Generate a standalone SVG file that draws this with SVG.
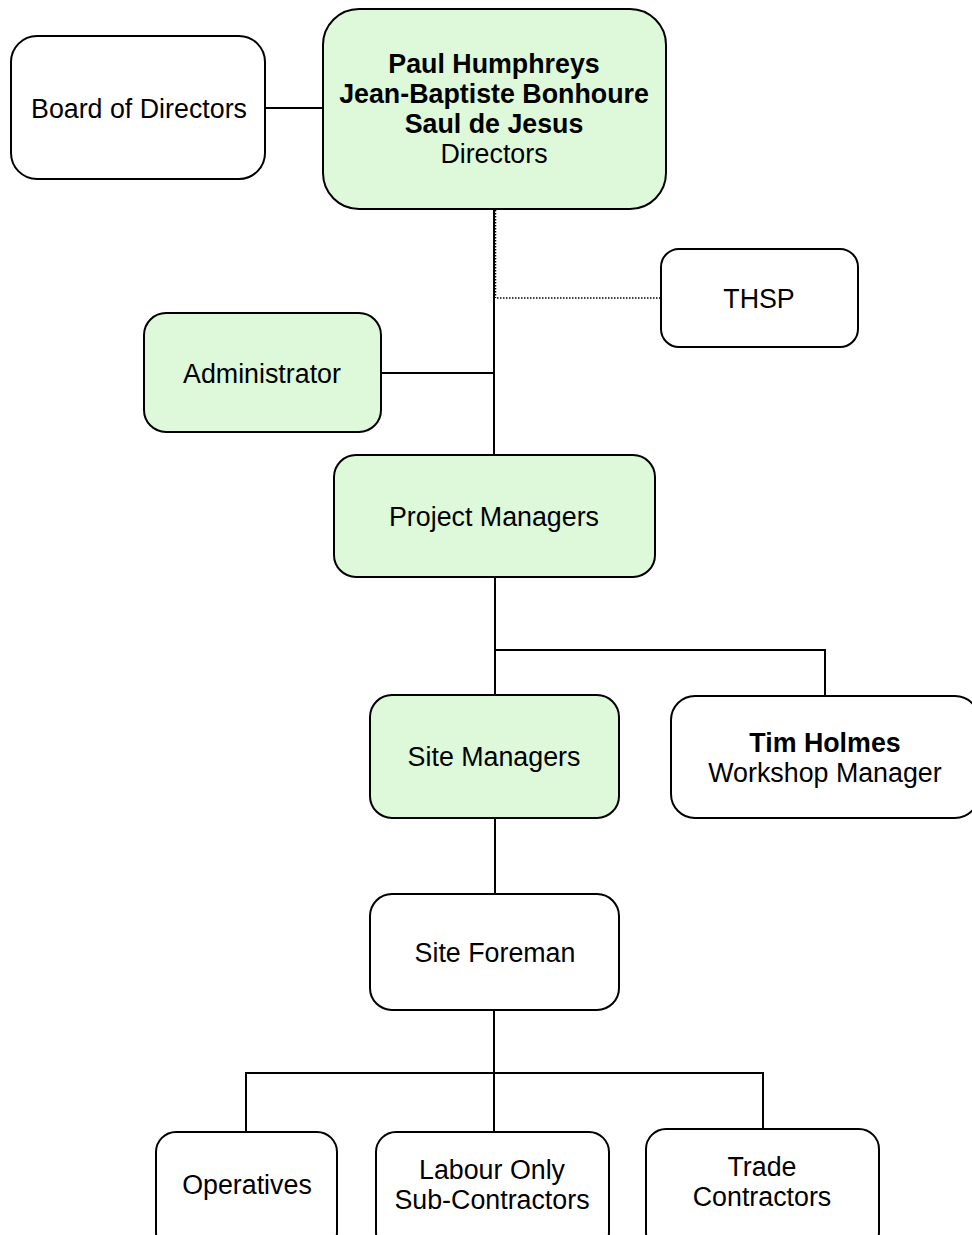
<svg xmlns="http://www.w3.org/2000/svg" width="972" height="1235" viewBox="0 0 972 1235">
<style>
.box{stroke:#000;stroke-width:2;fill:#fff}
.green{fill:#ddf9d9}
text{font-family:"Liberation Sans",Arial,sans-serif;font-size:26.8px;text-anchor:middle;fill:#000}
.b{font-weight:bold}
.ln{stroke:#000;stroke-width:2;fill:none}
.dot{stroke:#000;stroke-width:1.5;fill:none;stroke-dasharray:1.5,1.5}
</style>
<rect width="972" height="1235" fill="#fff"/>
<g id="connectors">
<line class="ln" x1="265" y1="108" x2="323" y2="108"/>
<line class="ln" x1="494" y1="209" x2="494" y2="455"/>
<line class="dot" x1="495.5" y1="210" x2="495.5" y2="298"/>
<line class="dot" x1="497" y1="298" x2="661" y2="298"/>
<line class="ln" x1="381" y1="373" x2="494" y2="373"/>
<line class="ln" x1="495" y1="577" x2="495" y2="695"/>
<polyline class="ln" points="495,650 825,650 825,696"/>
<line class="ln" x1="495" y1="818" x2="495" y2="894"/>
<line class="ln" x1="494" y1="1010" x2="494" y2="1132"/>
<polyline class="ln" points="246,1132 246,1073 763,1073 763,1129"/>
</g>
<g id="board"><rect class="box" x="11" y="36" width="254" height="143" rx="26"/><text x="139" y="118">Board of Directors</text></g>
<g id="directors"><rect class="box green" x="323" y="9" width="343" height="200" rx="36"/>
<text class="b" x="494" y="73">Paul Humphreys</text>
<text class="b" x="494" y="103">Jean-Baptiste Bonhoure</text>
<text class="b" x="494" y="133">Saul de Jesus</text>
<text x="494" y="163">Directors</text></g>
<g id="thsp"><rect class="box" x="661" y="249" width="197" height="98" rx="18"/><text x="759" y="308">THSP</text></g>
<g id="administrator"><rect class="box green" x="144" y="313" width="237" height="119" rx="22"/><text x="262" y="383">Administrator</text></g>
<g id="project-managers"><rect class="box green" x="334" y="455" width="321" height="122" rx="22"/><text x="494" y="526">Project Managers</text></g>
<g id="site-managers"><rect class="box green" x="370" y="695" width="249" height="123" rx="22"/><text x="494" y="766">Site Managers</text></g>
<g id="tim-holmes"><rect class="box" x="671" y="696" width="308" height="122" rx="24"/><text class="b" x="825" y="752">Tim Holmes</text><text x="825" y="782">Workshop Manager</text></g>
<g id="site-foreman"><rect class="box" x="370" y="894" width="249" height="116" rx="22"/><text x="495" y="962">Site Foreman</text></g>
<g id="operatives"><rect class="box" x="156" y="1132" width="181" height="120" rx="20"/><text x="247" y="1194">Operatives</text></g>
<g id="labour-only"><rect class="box" x="376" y="1132" width="233" height="120" rx="20"/><text x="492" y="1179">Labour Only</text><text x="492" y="1209">Sub-Contractors</text></g>
<g id="trade-contractors"><rect class="box" x="646" y="1129" width="233" height="123" rx="20"/><text x="762" y="1176">Trade</text><text x="762" y="1206">Contractors</text></g>
</svg>
